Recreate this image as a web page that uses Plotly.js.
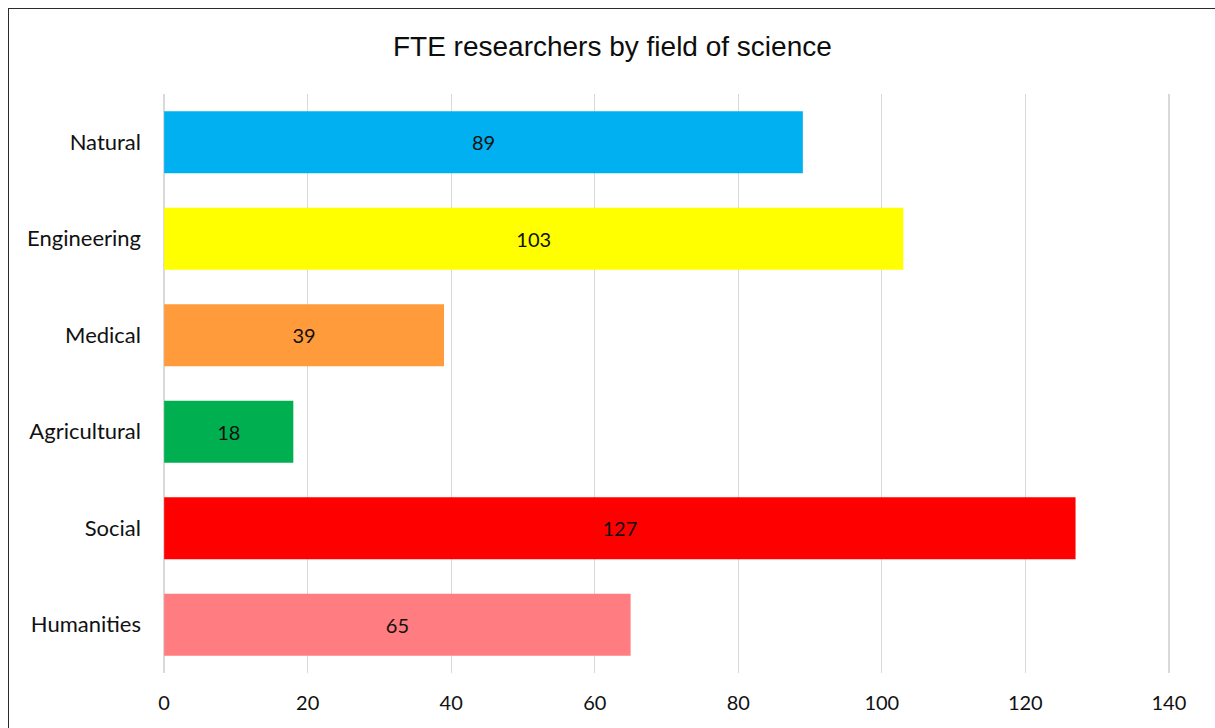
<!DOCTYPE html>
<html>
<head>
<meta charset="utf-8">
<script src="https://cdn.plot.ly/plotly-3.0.1.min.js"></script>
<style>
  html, body { margin: 0; padding: 0; background: #fff; overflow: hidden; }
  #chart { width: 1215px; height: 728px; position: relative; }
  #frame {
    position: absolute; left: 8px; top: 8px; width: 1230px; height: 740px;
    border: 1.5px solid #2b2b2b; pointer-events: none; box-sizing: border-box;
  }
</style>
</head>
<body>
<div id="chart"></div>
<div id="frame"></div>
<script>
// Full-time-equivalent researchers per field of science
const fields = ["Natural", "Engineering", "Medical", "Agricultural", "Social", "Humanities"];
const researchers = [89, 103, 39, 18, 127, 65];
const barColors = ["#00B0F0", "#FFFF00", "#FF9B3B", "#00B050", "#FF0000", "#FF7C80"];
const xTicks = [0, 20, 40, 60, 80, 100, 120, 140];

const categoryFont = { family: "Lato, 'Open Sans', sans-serif", size: 22, color: "#111" };
const numberFont = { family: "Lato, 'Open Sans', sans-serif", size: 20, color: "#111" };

const trace = {
  type: "bar",
  orientation: "h",
  y: fields,
  x: researchers,
  marker: { color: barColors, line: { width: 0 } },
  text: researchers.map(String),
  textposition: "inside",
  insidetextanchor: "middle",
  textangle: 0,
  constraintext: "none",
  textfont: numberFont,
  hoverinfo: "none"
};

const layout = {
  width: 1215,
  height: 728,
  margin: { l: 161.5, r: 43.5, t: 94, b: 55 },
  paper_bgcolor: "#fff",
  plot_bgcolor: "#fff",
  showlegend: false,
  bargap: 0.36,
  title: {
    text: "FTE researchers by field of science",
    font: { family: "'Liberation Sans', Arial, sans-serif", size: 28, color: "#0d0d0d" },
    x: 0.504, xanchor: "center",
    y: 1 - 46 / 728, yanchor: "middle"
  },
  xaxis: {
    // a small pad keeps the gridlines at 0 and 140 inside the plot area
    range: [-0.3, 140.3],
    tickvals: xTicks,
    ticktext: xTicks.map(String),
    showgrid: true,
    gridcolor: "#D9D9D9",
    gridwidth: 1.4,
    zeroline: false,
    showline: false,
    ticks: "",
    ticklabelstandoff: 16,
    tickfont: numberFont,
    fixedrange: true
  },
  yaxis: {
    autorange: "reversed",
    type: "category",
    showgrid: false,
    zeroline: false,
    showline: false,
    ticks: "",
    ticklabelstandoff: 20,
    tickfont: categoryFont,
    fixedrange: true
  }
};

Plotly.newPlot("chart", [trace], layout, { displayModeBar: false, staticPlot: true });
</script>
</body>
</html>
